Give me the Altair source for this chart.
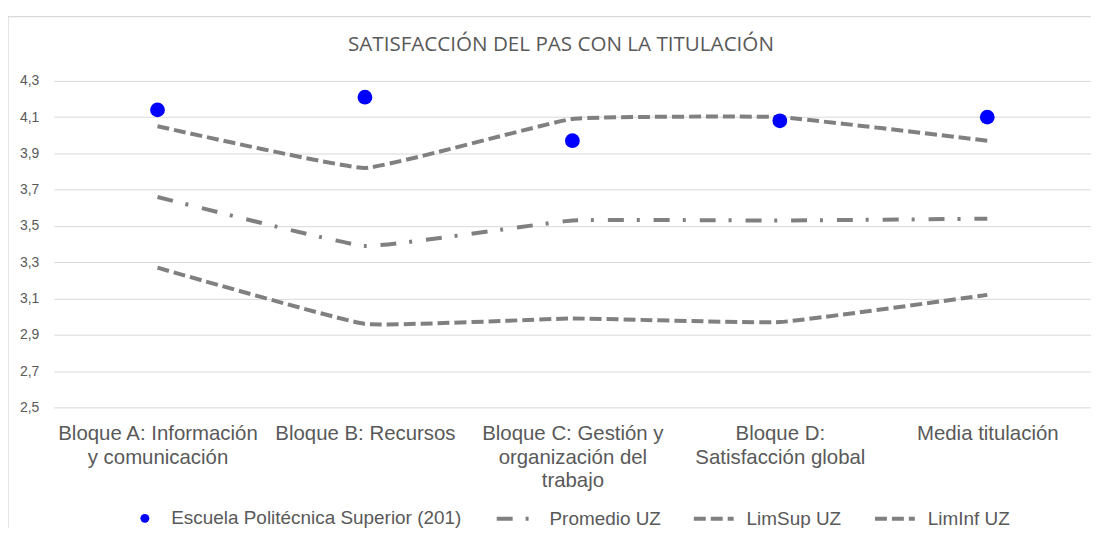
import altair as alt
import pandas as pd

# ---- data ----
categorias = [
    "Bloque A: Información|y comunicación",
    "Bloque B: Recursos",
    "Bloque C: Gestión y|organización del|trabajo",
    "Bloque D:|Satisfacción global",
    "Media titulación",
]
escuela = [4.14, 4.21, 3.97, 4.08, 4.10]
promedio_uz = [3.66, 3.39, 3.53, 3.53, 3.54]
limsup_uz = [4.05, 3.82, 4.09, 4.10, 3.97]
liminf_uz = [3.27, 2.96, 2.99, 2.97, 3.12]

serie_escuela = "Escuela Politécnica Superior (201)"
series_lineas = ["Promedio UZ", "LimSup UZ", "LimInf UZ"]
valores_lineas = [promedio_uz, limsup_uz, liminf_uz]
y_ticks = [2.5, 2.7, 2.9, 3.1, 3.3, 3.5, 3.7, 3.9, 4.1, 4.3]

df_points = pd.DataFrame({"categoria": categorias, "valor": escuela, "serie": serie_escuela})
rows = []
for s, vals in zip(series_lineas, valores_lineas):
    for c, v in zip(categorias, vals):
        rows.append({"categoria": c, "valor": v, "serie": s})
df_lines = pd.DataFrame(rows)

GRAY = "#808080"
TXT = "#595959"
FONT = "Liberation Sans"
W, H = 1042, 328

x_enc = alt.X(
    "categoria:N",
    sort=categorias,
    scale=alt.Scale(padding=0.5),
    axis=alt.Axis(
        title=None,
        labelExpr="split(datum.label, '|')",
        labelAngle=0,
        ticks=False,
        domain=False,
        grid=False,
        labelFont=FONT,
        labelFontSize=20.5,
        labelColor=TXT,
        labelLineHeight=24,
        labelPadding=16,
        labelBaseline="top",
        labelLimit=0,
        labelOverlap=False,
    ),
)
y_enc = alt.Y(
    "valor:Q",
    scale=alt.Scale(domain=[2.5, 4.3], nice=False, zero=False),
    axis=alt.Axis(
        title=None,
        values=y_ticks,
        labelExpr="replace(format(datum.value, '.1f'), '.', ',')",
        ticks=False,
        domain=False,
        grid=True,
        gridColor="#d9d9d9",
        gridWidth=1,
        labelFont=FONT,
        labelFontSize=14,
        labelColor=TXT,
        labelPadding=15,
    ),
)

lines = alt.Chart(df_lines).mark_line(
    interpolate="cardinal", tension=0.7, strokeWidth=4, color=GRAY
).encode(
    x=x_enc,
    y=y_enc,
    strokeDash=alt.StrokeDash(
        "serie:N",
        scale=alt.Scale(domain=series_lineas, range=[[16, 13, 3, 14], [12, 5], [12, 5]]),
        legend=alt.Legend(
            orient="none",
            legendX=443,
            legendY=418,
            direction="horizontal",
            title=None,
            symbolType="stroke",
            symbolSize=1600,
            symbolStrokeWidth=4,
            symbolStrokeColor=GRAY,
            labelFont=FONT,
            labelFontSize=19,
            labelColor=TXT,
            labelOffset=11,
            columnPadding=25,
            labelLimit=0,
        ),
    ),
)

points = alt.Chart(df_points).mark_circle(size=220, opacity=1).encode(
    x=x_enc,
    y=y_enc,
    color=alt.Color(
        "serie:N",
        scale=alt.Scale(domain=[serie_escuela], range=["#0000ff"]),
        legend=alt.Legend(
            orient="none",
            legendX=82,
            legendY=430,
            title=None,
            symbolType="circle",
            symbolSize=80,
            symbolOpacity=1,
            labelFont=FONT,
            labelFontSize=19,
            labelColor=TXT,
            labelOffset=17,
            labelLimit=0,
        ),
    ),
)

frame_src = pd.DataFrame({"k": [0]})
border_left = alt.Chart(frame_src).mark_rule(color="#d9d9d9", strokeWidth=1.3).encode(
    x=alt.value(-46), y=alt.value(-64.5), y2=alt.value(470)
)
border_top = alt.Chart(frame_src).mark_rule(color="#d9d9d9", strokeWidth=1.3).encode(
    x=alt.value(-46), x2=alt.value(W + 10), y=alt.value(-64.5)
)

chart = (
    alt.layer(border_left, border_top, lines, points)
    .properties(
        width=W,
        height=H,
        title=alt.TitleParams(
            "SATISFACCIÓN DEL PAS CON LA TITULACIÓN",
            font="Open Sans",
            fontSize=20.7,
            fontWeight="normal",
            color=TXT,
            anchor="middle",
            dx=-11.5,
            offset=-55.5,
            baseline="alphabetic",
        ),
        autosize=alt.AutoSizeParams(type="none"),
        padding={"left": 46, "top": 72, "right": 0, "bottom": 120},
        background="white",
    )
    .configure_view(stroke=None)
)

chart.save("out.html", embed_options={"renderer": "svg", "actions": False})
